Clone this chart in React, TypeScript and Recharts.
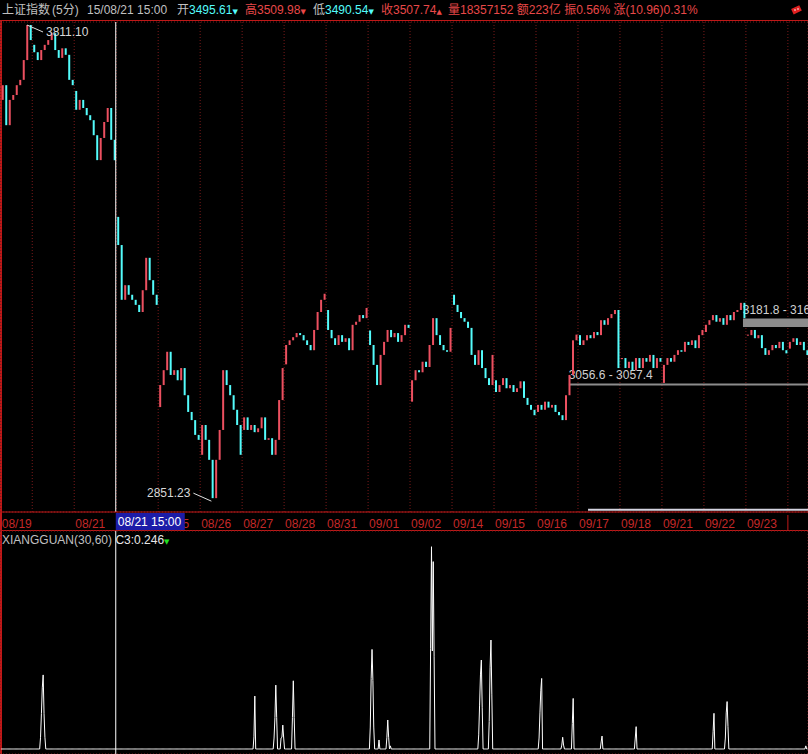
import React from 'react';
import {
  ComposedChart, Bar, Cell, Line, XAxis, YAxis, CartesianGrid,
  ReferenceLine, ReferenceDot, ReferenceArea,
} from 'recharts';

// trading days on screen and how many 5-minute bars of each are visible
const days = ['08/19', '08/20', '08/21', '08/24', '08/25', '08/26', '08/27', '08/28', '08/31', '09/01',
  '09/02', '09/14', '09/15', '09/16', '09/17', '09/18', '09/21', '09/22', '09/23', '09/24'];
const barsInView = [36, 48, 48, 48, 48, 48, 48, 48, 48, 48, 48, 48, 48, 48, 48, 48, 48, 48, 48, 23];
// the terminal skips 08/20 (crowded) and prints no label for the running day
const labelledDays = ['08/19', '08/21', '08/24', '08/25', '08/26', '08/27', '08/28', '08/31', '09/01',
  '09/02', '09/14', '09/15', '09/16', '09/17', '09/18', '09/21', '09/22', '09/23'];

// opening price of every day
const dayOpens = [3640, 3765, 3660, 3388, 3015, 2928, 2973, 3095, 3200, 3160,
  3025, 3230, 3065, 3006, 3151, 3105, 3060, 3157, 3150, 3125];

// index price, one close every 4 bars (20 min)
const closes = [
  3673, 3584, 3640, 3651, 3673, 3685, 3730, 3811.10, 3776,
  3748, 3730, 3753, 3765, 3776, 3792, 3753, 3735, 3757, 3742, 3685, 3673,
  3618, 3640, 3622, 3606, 3595, 3562, 3508, 3556, 3591, 3622, 3552, 3507.74,
  3330, 3220, 3249, 3230, 3220, 3210, 3196, 3239, 3304, 3259, 3230, 3210,
  3056, 3084, 3119, 3075, 3084, 3065, 3088, 3037, 3006, 2991, 2964, 2955,
  2982, 2955, 2919, 2851.23, 2919, 2973, 3084, 3056, 3037, 3010, 2982, 2928,
  2996, 2973, 2982, 2969, 2976, 2996, 2955, 2958, 2928, 2955, 3028, 3088,
  3132, 3141, 3147, 3155, 3151, 3141, 3132, 3122, 3161, 3196, 3220, 3232,
  3161, 3145, 3132, 3151, 3138, 3145, 3122, 3171, 3177, 3190, 3184, 3204,
  3132, 3094, 3056, 3113, 3138, 3161, 3147, 3155, 3138, 3151, 3171, 3165,
  3065, 3084, 3080, 3100, 3090, 3132, 3184, 3151, 3132, 3122, 3119, 3165,
  3210, 3196, 3184, 3177, 3165, 3113, 3094, 3122, 3088, 3069, 3056, 3113,
  3043, 3056, 3069, 3050, 3056, 3043, 3050, 3063, 3032, 3019, 3010, 3000,
  3019, 3010, 3025, 3014, 3019, 3006, 3000, 2991, 3037, 3075, 3141, 3152,
  3132, 3141, 3151, 3145, 3157, 3151, 3180, 3171, 3184, 3192, 3200, 3088,
  3107, 3088, 3100, 3084, 3107, 3088, 3107, 3100, 3113, 3088, 3107, 3100,
  3094, 3107, 3100, 3113, 3122, 3119, 3138, 3132, 3141, 3126, 3151, 3161,
  3171, 3180, 3190, 3177, 3184, 3171, 3190, 3180, 3196, 3200, 3214, 3184,
  3151, 3161, 3145, 3151, 3126, 3113, 3122, 3132, 3126, 3138, 3122, 3116,
  3138, 3145, 3132, 3138, 3122, 3113,
];
const BARS_PER_SAMPLE = 4;

const gridPrices = [2900, 3000, 3100, 3200, 3300, 3400, 3500, 3600, 3700, 3800];
const priceDomain = [2827.1, 3818.1];

// drawn price bands: start bar, low, high, caption
const bandStart = [650, 849];
const bandLow = [3056.6, 3168.0];
const bandHigh = [3057.4, 3181.8];
const bandText = ['3056.6 - 3057.4', '3181.8 - 3168.0'];
const floorLine = { from: 671, price: 2831 };

// XIANGGUAN(30,60) indicator: bars where it leaves zero, and its values
const xgBars = [45, 46, 47, 48, 49, 50, 289, 290, 312, 313, 314, 315, 320, 321, 322, 323,
  333, 334, 335, 422, 423, 424, 425, 426, 432, 441, 442, 443, 445,
  491, 492, 493, 494, 495, 546, 547, 548, 549, 550, 558, 559, 560, 561,
  615, 616, 617, 618, 641, 642, 643, 653, 654, 686, 687, 725, 726,
  814, 815, 828, 829, 830, 831, 920];
const xgValues = [0.03, 0.09, 0.156, 0.189, 0.09, 0.03, 0.031, 0.135, 0.028, 0.08, 0.163, 0.08, 0.028, 0.03, 0.061, 0.028,
  0.08, 0.174, 0.08, 0.056, 0.18, 0.254, 0.175, 0.056, 0.023, 0.03, 0.074, 0.03, 0.008,
  0.257, 0.516, 0.25, 0.478, 0.235, 0.036, 0.112, 0.189, 0.227, 0.105, 0.07, 0.207, 0.278, 0.138,
  0.028, 0.092, 0.15, 0.18, 0.01, 0.03, 0.01, 0.065, 0.129, 0.018, 0.033, 0.028, 0.057,
  0.044, 0.091, 0.028, 0.092, 0.121, 0.057, 0.008];
const xgGrid = [0.2, 0.4];
const xgDomain = [-0.01276, 0.55612];

const cursorBar = 131;
const cursorText = '08/21 15:00';

const titleParts = ['上证指数', '(5分)', '15/08/21 15:00'];
const quote = [
  { name: '开', value: '3495.61', up: false, arrow: '▼' },
  { name: '高', value: '3509.98', up: true, arrow: '▼' },
  { name: '低', value: '3490.54', up: false, arrow: '▼' },
  { name: '收', value: '3507.74', up: true, arrow: '▲' },
];
const stats = ['量18357152', '额223亿', '振0.56%', '涨(10.96)0.31%'];

const FONT = '"Liberation Sans", "Noto Sans CJK SC", sans-serif';
const FRAME = '#c01818';
const GRID = '#7a1a1a';
const UP = '#ec5060';
const DOWN = '#54fcfc';
const GRAY = '#c0c0c0';
const RED_T = '#e84848';
const X_DOMAIN = [-1.36, 922.5];

const dayStart: number[] = [];
barsInView.reduce((acc, n) => { dayStart.push(acc); return acc + n; }, 0);
const totalBars = barsInView.reduce((a, b) => a + b, 0);
const dayTicks = dayStart.map(s => s - 0.5);

const mainRows = closes.map((c, j) => {
  const bar = j * BARS_PER_SAMPLE;
  const d = dayStart.filter(s => s <= bar).length - 1;
  const o = dayStart[d] === bar ? dayOpens[d] : closes[j - 1];
  return { k: bar + 1.5, c, range: [Math.min(o, c), Math.max(o, c)], up: c >= o };
});

const xgRows = Array.from({ length: totalBars }, (_, k) => {
  const i = xgBars.indexOf(k);
  return { k, v: i >= 0 ? xgValues[i] : 0 };
});

const hi = mainRows.reduce((a, r) => (r.c > a.c ? r : a), mainRows[0]);
const lo = mainRows.reduce((a, r) => (r.c < a.c ? r : a), mainRows[0]);

const DayTick = (props: any) => {
  const { x, y, payload } = props;
  const d = dayTicks.indexOf(payload.value);
  if (d === days.length - 1) {
    return <line x1={x} x2={x} y1={y + 1} y2={y + 17} stroke={FRAME} />;
  }
  if (!labelledDays.includes(days[d])) return null;
  return (
    <text x={x + 1} y={y + 14} fill="#c42828" fontSize={12} fontFamily={FONT}>{days[d]}</text>
  );
};

const HighMark = (props: any) => {
  const { cx, cy } = props;
  return (
    <g>
      <line x1={cx} y1={cy} x2={cx + 16} y2={cy + 7} stroke="#e0e0e0" />
      <text x={cx + 19} y={cy + 11} fill="#d8d8d8" fontSize={12} fontFamily={FONT}>{hi.c.toFixed(2)}</text>
    </g>
  );
};

const LowMark = (props: any) => {
  const { cx, cy } = props;
  return (
    <g>
      <line x1={cx - 1} y1={cy + 3} x2={cx - 19} y2={cy - 5} stroke="#e0e0e0" />
      <text x={cx - 22} y={cy - 1} textAnchor="end" fill="#d8d8d8" fontSize={12} fontFamily={FONT}>{lo.c.toFixed(2)}</text>
    </g>
  );
};

const abs = (left: number, top: number): React.CSSProperties => ({ position: 'absolute', left, top, whiteSpace: 'nowrap' });

export default function App() {
  const titleLeft = [2, 52, 87];
  const quoteLeft = [177, 245, 313, 381];
  return (
    <div style={{ position: 'fixed', left: 0, top: 0, width: 808, height: 754, background: '#000', overflow: 'hidden', fontFamily: FONT, fontSize: 12, lineHeight: '16px' }}>
      <div style={{ ...abs(0, 20), width: 808, height: 1, background: FRAME }} />
      <div style={{ ...abs(0, 530), width: 808, height: 1, background: FRAME }} />
      <div style={{ ...abs(0, 20), width: 2, height: 734, background: FRAME }} />

      {titleParts.map((t, i) => (
        <div key={t} style={{ ...abs(titleLeft[i], 2), color: GRAY }}>{t}</div>
      ))}
      {quote.map((q, i) => (
        <div key={q.name} style={abs(quoteLeft[i], 2)}>
          <span style={{ color: q.up ? RED_T : GRAY }}>{q.name}</span>
          <span style={{ color: q.up ? RED_T : DOWN }}>{q.value}</span>
          <span style={{ color: q.up ? RED_T : DOWN, fontSize: 7, fontFamily: '"DejaVu Sans"' }}>{q.arrow}</span>
        </div>
      ))}
      <div style={{ ...abs(448, 2), color: RED_T }}>
        {stats.map((s, i) => <span key={s}>{i > 0 ? ' ' : ''}{s}</span>)}
      </div>
      <svg style={abs(789, 4)} width={14} height={14}>
        <rect x={3} y={3} width={9} height={6} fill="#e02020" transform="rotate(-25 7 6)" />
        <circle cx={6} cy={6} r={0.8} fill="#fff" />
        <circle cx={9} cy={5} r={0.8} fill="#fff" />
      </svg>

      <div style={abs(0, 0)}>
        <ComposedChart width={808} height={531} data={mainRows} margin={{ top: 22, right: 0, bottom: 0, left: 0 }}>
          <CartesianGrid stroke={GRID} strokeDasharray="1 2" />
          <XAxis dataKey="k" type="number" domain={X_DOMAIN} allowDataOverflow ticks={dayTicks} interval={0}
            height={19} tickSize={0} tickLine={false} axisLine={{ stroke: FRAME }} tick={<DayTick />} />
          <YAxis type="number" scale="log" domain={priceDomain} allowDataOverflow ticks={gridPrices}
            width={0} tick={false} axisLine={false} tickLine={false} />
          <Bar dataKey="range" barSize={2} minPointSize={1} isAnimationActive={false}>
            {mainRows.map((r, i) => <Cell key={i} fill={r.up ? UP : DOWN} />)}
          </Bar>
          <ReferenceLine x={cursorBar} stroke="#ffffff" />
          {bandText.map((t, i) => (
            <ReferenceArea key={t} x1={bandStart[i]} x2={X_DOMAIN[1]} y1={bandLow[i]} y2={bandHigh[i]}
              fill="#8c8c8c" fillOpacity={1} stroke="#8c8c8c" strokeWidth={1.5}
              label={(p: any) => (
                <text x={p.viewBox.x - 1} y={p.viewBox.y - 5} fill="#d0d0d0" fontSize={12} fontFamily={FONT}>{t}</text>
              )} />
          ))}
          <ReferenceLine segment={[{ x: floorLine.from, y: floorLine.price }, { x: X_DOMAIN[1], y: floorLine.price }]}
            stroke="#d4d4e0" strokeWidth={2} />
          <ReferenceDot x={hi.k} y={hi.c} r={0} ifOverflow="visible" shape={HighMark} />
          <ReferenceDot x={lo.k} y={lo.c} r={0} ifOverflow="visible" shape={LowMark} />
        </ComposedChart>
      </div>

      <div style={abs(0, 512)}>
        <ComposedChart width={808} height={242} data={xgRows} margin={{ top: 19, right: 0, bottom: 0, left: 0 }}>
          <CartesianGrid stroke={GRID} strokeDasharray="1 2" />
          <XAxis dataKey="k" type="number" domain={X_DOMAIN} allowDataOverflow ticks={dayTicks} interval={0}
            height={0} tick={false} tickLine={false} axisLine={false} />
          <YAxis type="number" domain={xgDomain} allowDataOverflow ticks={xgGrid}
            width={0} tick={false} axisLine={false} tickLine={false} />
          <Line dataKey="v" type="linear" stroke="#ffffff" strokeWidth={1} dot={false} isAnimationActive={false} />
          <ReferenceLine x={cursorBar} stroke="#ffffff"
            label={(p: any) => (
              <g>
                <rect x={p.viewBox.x} y={p.viewBox.y - 18} width={69} height={17} fill="#1c1ca8" />
                <text x={p.viewBox.x + 2} y={p.viewBox.y - 5} fill="#ffffff" fontSize={12} fontFamily={FONT}>{cursorText}</text>
              </g>
            )} />
        </ComposedChart>
      </div>

      <div style={abs(2, 532)}>
        <span style={{ color: GRAY }}>XIANGGUAN(30,60) </span>
        <span style={{ color: '#e8e8e8' }}>C3:0.246</span>
        <span style={{ color: '#20e020', fontSize: 7, fontFamily: '"DejaVu Sans"' }}>▼</span>
      </div>
    </div>
  );
}
